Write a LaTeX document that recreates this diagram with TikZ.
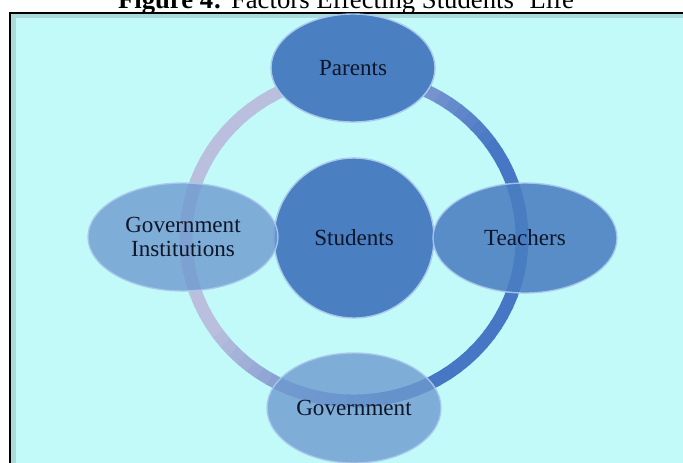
\documentclass[tikz,border=0pt]{standalone}
\usepackage{fontspec}
\setmainfont{Liberation Serif}
\usetikzlibrary{shapes.geometric}
\definecolor{bgcyan}{HTML}{C2FAFA}
\definecolor{darkblue}{HTML}{4A7FC2}
\definecolor{paleblue}{HTML}{6E9ACF}
\definecolor{lavender}{HTML}{B9BFDD}
\definecolor{ringblue}{HTML}{4676C4}
\definecolor{ink}{HTML}{0E1628}
\definecolor{rim}{HTML}{A9C8EC}
\tikzset{
  bubble/.style={ellipse, draw=rim, line width=1.2pt, text=ink, inner sep=0pt,
    font=\fontsize{19.7}{20.4}\selectfont, align=center},
  solidbubble/.style={bubble, fill=darkblue},
  glassbubble/.style={bubble, fill=paleblue, fill opacity=0.8, draw opacity=0.9, text opacity=1},
  ringseg/.style={line width=11pt},
}

\begin{document}
\begin{tikzpicture}[x=0.03cm, y=-0.03cm]
  \useasboundingbox (0,0) rectangle (683,462);
  \fill[white] (0,0) rectangle (683,462);

  % framed panel
  \draw[fill=bgcyan, line width=1.7pt] (10,13) rectangle (720,500);
  \fill[black, opacity=0.12] (11,14) rectangle (16,500);
  \fill[black, opacity=0.12] (16,14) rectangle (720,18);
  \node[anchor=base, font=\fontsize{22.8}{24}\selectfont] (title) at (346,8)
    {\textbf{Figure 4:} Factors Effecting Students' Life};

  % ring, dark on the right, pale on the left
  \coordinate (hub) at (354,238);
  \foreach \a in {0,4,...,356}{
    \pgfmathsetmacro\p{min(100,max(0,50+90*cos(\a+160)))}
    \draw[ringseg, draw=lavender!\p!ringblue] (hub) ++(\a:168 and 163)
      arc[start angle=\a, delta angle=4.6, x radius=168, y radius=163];
  }

  \node[solidbubble, minimum width=4.92cm, minimum height=3.24cm] (parents) at (353,68) {Parents};
  \node[solidbubble, circle, minimum size=4.8cm] (students) at (hub) {Students};
  \node[glassbubble, fill opacity=0.88, fill=darkblue, minimum width=5.52cm, minimum height=3.3cm] (teachers) at (525,238) {Teachers};
  \node[glassbubble, minimum width=5.7cm, minimum height=3.24cm] (govinst) at (183,237) {Government\\Institutions};
  \node[glassbubble, minimum width=5.22cm, minimum height=3.3cm] (govt) at (354,408) {Government};
\end{tikzpicture}
\end{document}
